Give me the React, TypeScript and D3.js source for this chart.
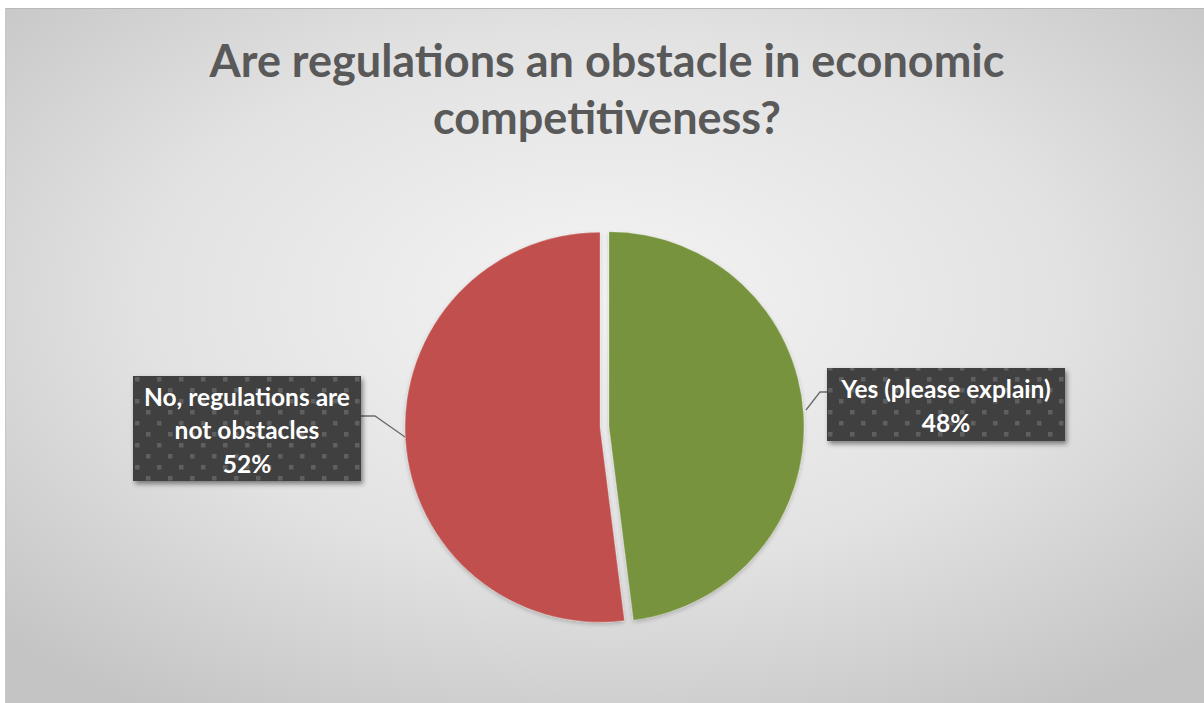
import React from "react";
import * as d3 from "d3";

const categories = ["Yes (please explain)", "No, regulations are not obstacles"];
const values = [48, 52];
const colors = ["#77933c", "#c0504d"];
const labelLines = [["Yes (please explain)", "48%"], ["No, regulations are", "not obstacles", "52%"]];
const titleLines = ["Are regulations an obstacle in economic", "competitiveness?"];

export default function App() {
  const W = 1204, H = 703;
  const cx = 604.5, cy = 427, r = 195, explode = 4.5;
  const pie = d3.pie<number>().sort(null).value((d) => d)(values);
  const arc = d3.arc<d3.PieArcDatum<number>>().innerRadius(0).outerRadius(r);

  const boxes = [
    { x: 827, y: 368, w: 238, h: 73, lineY: [389, 423], leader: [[806, 410], [820, 392], [827, 392]] },
    { x: 133, y: 376, w: 228, h: 105, lineY: [397, 430, 464], leader: [[361, 416], [375, 416], [405, 437]] },
  ];

  return (
    <svg width={W} height={H} style={{ position: "absolute", left: 0, top: 0 }} fontFamily="Lato, 'Open Sans', sans-serif">
      <defs>
        <radialGradient id="bg" cx="50%" cy="42%" r="70%">
          <stop offset="0%" stopColor="#f4f4f4" />
          <stop offset="55%" stopColor="#e2e2e2" />
          <stop offset="100%" stopColor="#c4c4c4" />
        </radialGradient>
        <pattern id="dots" width="22" height="22" patternUnits="userSpaceOnUse" x="0" y="0">
          <rect width="22" height="22" fill="#404040" />
          <rect x="3" y="3" width="4.5" height="4.5" fill="#5e5e5e" />
          <rect x="14" y="14" width="4.5" height="4.5" fill="#5e5e5e" />
        </pattern>
        <filter id="shadow" x="-10%" y="-10%" width="130%" height="140%">
          <feDropShadow dx="2" dy="3" stdDeviation="2.5" floodColor="#000" floodOpacity="0.45" />
        </filter>
        <filter id="pshadow" x="-10%" y="-10%" width="120%" height="120%">
          <feDropShadow dx="0" dy="2" stdDeviation="2" floodColor="#000" floodOpacity="0.2" />
        </filter>
      </defs>
      <rect x={0} y={0} width={W} height={H} fill="#ffffff" />
      <rect x={5} y={8} width={W - 5} height={H - 8} fill="url(#bg)" />
      <line x1={5} y1={8.5} x2={W} y2={8.5} stroke="#b8b8b8" strokeWidth={1} />
      <line x1={5.5} y1={8} x2={5.5} y2={H} stroke="#c8c8c8" strokeWidth={1} />

      {titleLines.map((t, i) => (
        <text key={i} x={607} y={77 + i * 57} textAnchor="middle" fontSize={45} fontWeight="bold" fill="#595959">
          {t}
        </text>
      ))}

      <g filter="url(#pshadow)">
        {pie.map((p, i) => {
          const mid = (p.startAngle + p.endAngle) / 2;
          const dx = Math.sin(mid) * explode, dy = -Math.cos(mid) * explode;
          return (
            <path key={categories[i]} d={arc(p) || ""} transform={`translate(${cx + dx},${cy + dy})`} fill={colors[i]} stroke="#ffffff" strokeOpacity={0.25} strokeWidth={1} />
          );
        })}
      </g>

      {boxes.map((b, i) => (
        <g key={i}>
          <polyline points={b.leader.map((p) => p.join(",")).join(" ")} fill="none" stroke="#6b6b6b" strokeWidth={1.3} />
          <rect x={b.x} y={b.y} width={b.w} height={b.h} fill="url(#dots)" filter="url(#shadow)" />
          {labelLines[i].map((t, j) => (
            <text key={j} x={b.x + b.w / 2} y={b.lineY[j]} dy="0.35em" textAnchor="middle" fontSize={24.5} fontWeight="bold" fill="#ffffff">
              {t}
            </text>
          ))}
        </g>
      ))}
    </svg>
  );
}
